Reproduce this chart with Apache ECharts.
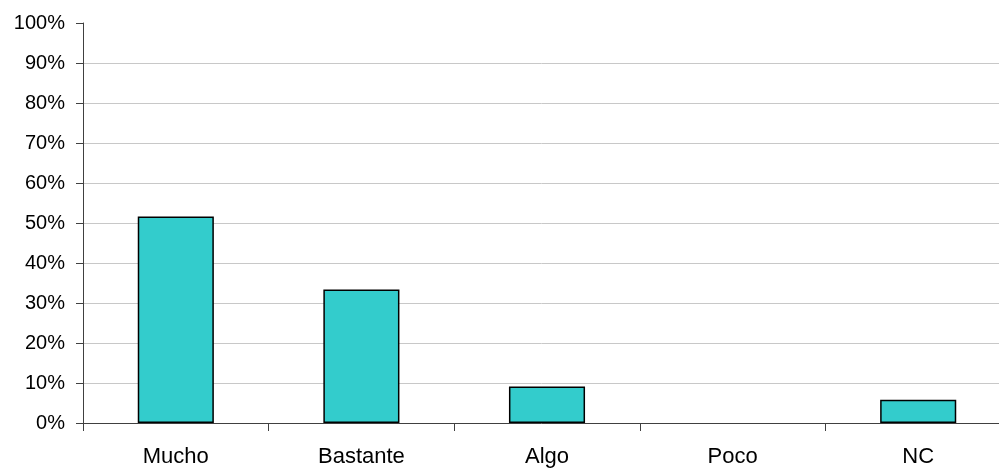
<!DOCTYPE html>
<html>
<head>
<meta charset="utf-8">
<script src="https://cdn.jsdelivr.net/npm/echarts@6/dist/echarts.min.js"></script>
<style>
html,body{margin:0;padding:0;background:#fff;}
#chart{width:999px;height:468px;}
</style>
</head>
<body>
<div id="chart"></div>
<script>
var categories = ['Mucho', 'Bastante', 'Algo', 'Poco', 'NC'];
var values = [51.6, 33.4, 9.1, 0, 5.8];
var yTicks = [0, 10, 20, 30, 40, 50, 60, 70, 80, 90, 100];

var gridColors = yTicks.map(function (t, i) { return i === yTicks.length - 1 ? 'rgba(0,0,0,0)' : '#c8c8c8'; });
var barData = values.map(function (v) {
  return v === 0 ? {value: v, itemStyle: {borderWidth: 0}} : v;
});

var chart = echarts.init(document.getElementById('chart'), null, {renderer: 'canvas'});
chart.setOption({
  animation: false,
  backgroundColor: '#ffffff',
  grid: {left: 83, top: 23, width: 928, height: 400, containLabel: false, outerBoundsMode: 'none'},
  xAxis: {
    type: 'category',
    data: categories,
    boundaryGap: true,
    z: 5,
    axisLine: {show: true, lineStyle: {color: '#404040', width: 1}},
    axisTick: {show: true, length: 8, alignWithLabel: false, lineStyle: {color: '#404040'}},
    axisLabel: {color: '#000', fontFamily: 'Liberation Sans, Arial, sans-serif', fontSize: 22, margin: 23}
  },
  yAxis: {
    type: 'value',
    min: yTicks[0],
    max: yTicks[yTicks.length - 1],
    interval: 10,
    axisLine: {show: true, lineStyle: {color: '#404040', width: 1}},
    axisTick: {show: true, length: 7, lineStyle: {color: '#404040'}},
    axisLabel: {color: '#000', fontFamily: 'Liberation Sans, Arial, sans-serif', fontSize: 20, margin: 18,
      formatter: function (v) { return v + '%'; }},
    splitLine: {show: true, lineStyle: {color: gridColors, width: 1}}
  },
  series: [{
    type: 'bar',
    data: barData,
    barWidth: '41%',
    itemStyle: {color: '#33CCCC', borderColor: '#000000', borderWidth: 1.5}
  }]
});
</script>
</body>
</html>
